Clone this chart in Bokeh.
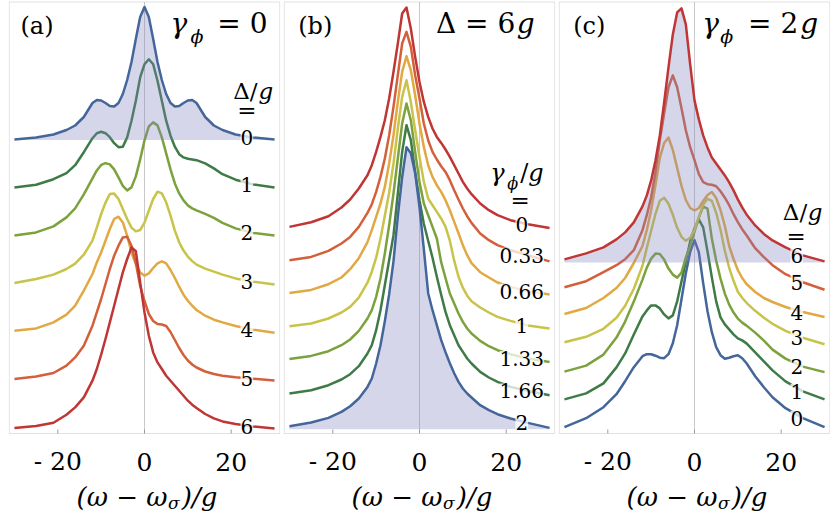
import numpy as np
from bokeh.plotting import figure
from bokeh.models import Label, Range1d, BoxAnnotation
from bokeh.layouts import row
from bokeh.embed import file_html
from bokeh.resources import INLINE

# ---------------- data ----------------
# frequency grid (omega - omega_sigma)/g
omega = [-30, -25, -21, -18, -16, -14, -12, -11, -10, -9, -8, -7, -6, -5, -4, -3, -2, -1, 0,
         1, 2, 3, 4, 5, 6, 7, 8, 9, 10, 11, 12, 14, 16, 18, 21, 25, 30]
x_ticks = [-20, 0, 20]
x_tick_labels = ["- 20", "0", "20"]

# panel (a): gamma_phi = 0, spectra for Delta/g = 0..6 (arb. units)
a_labels = ["0", "1", "2", "3", "4", "5", "6"]
a_d0 = [0.5, 2.5, 5.5, 10, 14.5, 23, 37, 40, 39.5, 37, 34, 33.5, 37, 46, 60, 78, 101, 123, 133,
        123, 101, 78, 60, 46, 37, 33.5, 34, 37, 39.5, 40, 37, 23, 14.5, 10, 5.5, 2.5, 0.5]
a_d1 = [0.8, 3.5, 9, 15, 23, 36, 50, 55, 56.5, 55, 51, 45, 41, 41.5, 50.8, 67.5, 87.5, 110.8, 124,
        129, 124, 107.5, 87.5, 67.5, 52.5, 41.5, 34, 30.8, 29.5, 28.8, 28, 24.8, 19.8, 14, 8.5, 3.8, 0.8]
a_d2 = [1, 4, 10, 19, 28, 42, 58, 66, 71.5, 73.3, 72, 67, 59, 50.5, 46, 49, 60, 77, 96,
        110, 114, 111, 99, 83, 67, 53, 43, 36, 31, 28, 26, 22.5, 18.5, 13.5, 8, 3.5, 1]
a_d3 = [1.6, 5.6, 10, 15.6, 21, 30, 44, 57, 70.6, 82, 90.5, 91, 85.6, 75.6, 65.6, 57, 53.2, 54.6, 62,
        73.9, 85.6, 92.9, 91.2, 82.3, 69, 54, 42.3, 34, 28, 23.5, 20, 16, 13, 10, 6.2, 2.9, 0.2]
a_d4 = [2.1, 4.4, 10.4, 18.1, 27.1, 42.1, 58.8, 70.4, 80.4, 92.1, 103.8, 113.8, 116.1, 110.4, 97.1, 80, 68.8, 60.4, 57.1,
        59.4, 64.8, 69.4, 71.4, 69.4, 62.8, 54.8, 46.1, 38.1, 32.1, 27.1, 22.8, 17.1, 13.1, 10.4, 6.8, 3.1, 0.1]
a_d5 = [2.0, 4.6, 8, 15.3, 23.6, 35.3, 55.3, 68.6, 82, 97, 112, 125.3, 135.3, 143.6, 144.3, 135.3, 118, 95, 80,
        67, 60, 57, 56.5, 55, 49, 41, 33, 26, 20.5, 16.5, 13.5, 9.5, 7, 5.3, 3.8, 2.3, 0.5]
a_d6 = [1.2, 3.2, 6.5, 14.5, 21.8, 31.8, 48.5, 60.2, 74.5, 90.2, 106.8, 123.5, 140.2, 156.8, 170.2, 181.8, 178, 146.8, 116.8,
        93.5, 76.8, 66.8, 60.2, 53.5, 48.5, 43.5, 38.5, 33.5, 28.5, 24.5, 21.2, 15.2, 10.8, 7.8, 5.2, 2.8, 0.8]
a_offsets = [289.2, 241.0, 192.8, 144.6, 96.4, 48.2, 0.0]

# panel (b): Delta = 6g, spectra for gamma_phi/g = 0 .. 2
b_labels = ["0", "0.33", "0.66", "1", "1.33", "1.66", "2"]
b_g0 = [1.3, 6, 12, 20.7, 28.7, 39.7, 53, 63, 76.3, 91.3, 108, 129.7, 156.3, 184.7, 214.7, 220.7, 199.7, 171.3, 146.3,
        126.3, 111.3, 99.7, 91.3, 85.3, 78.7, 71.3, 63, 54.7, 46.3, 39.7, 34, 24.7, 18, 13, 8, 4, 0.3]
b_g033 = [1.5, 4.8, 10.8, 18.2, 24.8, 34.8, 48.8, 57.5, 69.8, 84.8, 103.2, 126.5, 154.8, 186.5, 218.2, 229.8, 214.8, 186.5, 163.2,
          138.2, 121.5, 109.8, 102.2, 95.5, 89.8, 81.5, 71.5, 62.2, 53.2, 45.5, 38.8, 28.2, 21.5, 16.5, 11.5, 6.5, 0.3]
b_g066 = [2.3, 5.3, 11, 17.7, 26, 37, 53, 65, 78.3, 91.7, 108.3, 131.7, 160, 193.3, 223.3, 239, 225, 200, 171.7,
          148.3, 130, 118.3, 110, 103.3, 95, 85, 73.3, 62, 50, 40, 32, 23, 17.7, 12.7, 8.3, 4, 0.7]
b_g1 = [2.5, 5.2, 10.2, 16.2, 21.8, 31, 46, 57, 71, 90, 113, 136, 165.2, 200.2, 231.8, 248.5, 226.8, 198.5, 171.8,
        146.8, 130.2, 123.5, 116.8, 110.2, 102, 88, 68, 52, 41, 33, 27.5, 21.2, 16.2, 11.8, 7.8, 3.2, 0.2]
b_g133 = [3.3, 6.3, 11, 17, 22.7, 31.3, 43.7, 52, 65.3, 83.7, 108.7, 137, 168.7, 203.7, 238.7, 258.7, 242, 210.3, 180.3,
          158.7, 147, 135.3, 123.7, 100, 84, 68.7, 58.7, 48.7, 40.3, 33.7, 28.7, 21.3, 16, 12, 8, 3.7, 0.3]
b_g166 = [2.2, 5.5, 10.5, 16.2, 21.5, 29.5, 42.2, 50.5, 65.5, 85.5, 110.5, 135.5, 160.5, 202.2, 243.8, 270.5, 255.5, 223.8, 195.5,
          172, 155, 138, 119, 101, 83.8, 70.5, 60.5, 50.5, 43.8, 37.2, 32.2, 23.8, 18.2, 13.8, 8.8, 4.8, 0.5]
b_g2 = [3, 6.7, 11.3, 17.3, 23, 30.7, 42.3, 50.7, 65.7, 84, 108, 135, 168, 213, 252, 282, 276, 256, 222,
        180, 136, 119, 104, 89, 77, 66, 56, 47.3, 40.7, 35.7, 31.7, 24, 19, 15, 10.7, 6.3, 1.3]
b_offsets = [201.0, 167.5, 134.0, 100.5, 67.0, 33.5, 0.0]

# panel (c): gamma_phi = 2g, spectra for Delta/g = 0..6
c_labels = ["0", "1", "2", "3", "4", "5", "6"]
c_d0 = [2, 11, 22, 35, 48, 62, 73, 75, 75, 73.5, 71.5, 71, 75, 86, 104, 130, 156, 177, 189,
        177, 146, 118, 97, 82, 74, 70.5, 71.5, 73, 74, 71, 66, 53, 42, 32, 21, 11, 2]
c_d1 = [2, 8, 18, 34, 48, 67, 85, 91, 96, 96, 93, 87, 83, 86, 100, 120, 140, 160, 173,
        182, 174, 150, 124, 100, 84, 77, 72, 67, 63, 61, 58, 49, 40, 31, 20, 10, 2]
c_d2 = [2, 8, 19, 36, 52, 72, 94, 106, 115, 120, 119.5, 114, 105, 99, 96, 101, 116, 128, 142,
        156, 167, 165, 135, 113, 95, 80, 69, 61, 55, 51, 48, 41, 33, 24, 15, 7, 1.5]
c_d3 = [3.5, 9, 17, 28, 40, 57, 80, 98, 115, 132, 145, 148, 142, 131, 118, 109, 105, 108, 116,
        129, 141, 147, 145, 133, 116, 95, 78, 65, 54, 48, 43, 35, 28, 22, 15, 8, 1.5]
c_d4 = [4, 10, 20, 30, 40, 55, 72, 88, 108, 133, 160, 175, 180.5, 168, 150, 132, 118, 110, 107.5,
        110, 117, 123, 126, 120, 108, 92, 72, 59, 48, 40, 34, 26, 20, 16, 11, 6, 1]
c_d5 = [3, 9, 18, 25, 31, 40, 60, 75, 93, 118, 150, 177, 203, 214.8, 203, 182, 160, 143, 130,
        116, 108, 106, 105.5, 104, 99, 92.5, 85, 76, 68, 61, 55, 42, 33, 25, 16, 8, 0.5]
c_d6 = [3, 9, 15, 23, 30, 40, 56, 67, 82, 102, 127, 160, 195, 228, 250, 254, 238, 198, 162,
        143, 127, 115, 105, 99, 93, 87, 80, 72, 63, 55, 48, 37, 28.5, 22, 15, 7, 1]
c_offsets = [0.0, 27.8, 55.6, 83.4, 111.2, 139.0, 166.8]

# ---------------- styling / layout ----------------
palette = ["#44669A", "#3E7B47", "#7CA23D", "#C8C349", "#E2A842", "#D3603B", "#BF3634"]
FILL = "#8080C0"
FONT = "DejaVu Serif"
GRAY = "#9a9a9a"
PX = 4.335                       # reference pixels per x unit
FRAME_W = 272
H = 514
XR = (-FRAME_W / 2 / PX, FRAME_W / 2 / PX)
BOX_X = 31.2                     # plotting-frame half width in x units
X_LAB = 23.6
BORDERS = [(8, 1), (2, 1), (2, 0)]


def yref(py):
    """vertical position measured from the top of the picture -> data units"""
    return 428.7 - py


Y_BOT, Y_TOP = yref(433), yref(1.5)     # plotting frame


def base_fig(bl, br):
    p = figure(frame_width=FRAME_W, frame_height=H, x_range=Range1d(*XR),
               y_range=Range1d(yref(H), yref(0)), output_backend="svg",
               toolbar_location=None, x_axis_location=None, y_axis_location=None,
               min_border_left=bl, min_border_right=br, min_border_top=0, min_border_bottom=0,
               background_fill_color="white", border_fill_color="white")
    p.grid.visible = False
    p.outline_line_color = None
    # axis line at omega = 0
    p.segment(x0=[0], x1=[0], y0=[Y_BOT], y1=[Y_TOP], line_color="#c9c9c9", line_width=1)
    return p


def lab(p, x, y, s, size, italic=False, align="left", bg=False):
    kw = dict(x=x, y=y, text=s, text_font=FONT, text_font_size=f"{size}px",
              text_font_style="italic" if italic else "normal", text_align=align,
              text_baseline="middle", text_color="black")
    if bg:
        kw.update(background_fill_color="white", background_fill_alpha=0.75)
    p.add_layout(Label(**kw))


def txt(p, x, base_py, s, size, italic=False, align="left"):
    # base_py: text baseline measured from the top of the picture
    lab(p, x, yref(base_py - 0.36 * size), s, size, italic=italic, align=align)


def frame_and_axis(p):
    # ticks pointing into the frame, tick labels and the axis title
    p.segment(x0=x_ticks, x1=x_ticks, y0=[Y_BOT] * 3, y1=[Y_BOT + 4] * 3,
              line_color=GRAY, line_width=1)
    for t, s in zip(x_ticks, x_tick_labels):
        txt(p, t, 470, s, 25, align="center")
    txt(p, 5.3, 506, "(ω − ω", 26, italic=True, align="right")
    txt(p, 5.4, 508.5, "σ", 17, italic=True)
    txt(p, 8.6, 506, ")/g", 26, italic=True)
    p.add_layout(BoxAnnotation(left=-BOX_X, right=BOX_X, bottom=Y_BOT, top=Y_TOP,
                               fill_color=None, fill_alpha=0, line_color=GRAY, line_width=1))


def draw(p, curves, offsets, colors, labels, filled):
    x = np.array(omega, dtype=float)
    for i in range(len(curves)):
        if i == filled:
            continue
        p.line(x, offsets[i] + np.array(curves[i]), line_color=colors[i], line_width=2.5,
               line_join="round")
    v = np.array(curves[filled], dtype=float)
    off = offsets[filled]
    p.varea(x=x, y1=np.full_like(x, off), y2=off + v, fill_color=FILL, fill_alpha=0.32)
    p.line(x, off + v, line_color=colors[filled], line_width=2.5, line_join="round")
    i25 = omega.index(25)
    for i in range(len(curves)):
        lab(p, X_LAB, offsets[i] + curves[i][i25], labels[i], 20, align="center", bg=True)


# ---------------- panel (a) ----------------
pa = base_fig(*BORDERS[0])
draw(pa, [a_d0, a_d1, a_d2, a_d3, a_d4, a_d5, a_d6], a_offsets, palette, a_labels, 0)
xa = lambda px: (px - 144.0) / PX
txt(pa, xa(20), 34, "(a)", 24)
txt(pa, xa(170), 33, "γ", 28, italic=True)
txt(pa, xa(190), 42.4, "ϕ", 19, italic=True)
txt(pa, xa(267), 33, "= 0", 28, align="right")
txt(pa, xa(257), 98.3, "Δ/", 23, align="right")
txt(pa, xa(258), 98.3, "g", 23, italic=True)
txt(pa, xa(246.5), 118, "=", 23, align="center")
frame_and_axis(pa)

# ---------------- panel (b) ----------------
pb = base_fig(*BORDERS[1])
b_colors = palette[::-1]
draw(pb, [b_g0, b_g033, b_g066, b_g1, b_g133, b_g166, b_g2], b_offsets, b_colors, b_labels, 6)
xb = lambda px: (px - 419.3) / PX
txt(pb, xb(298), 34, "(b)", 24)
txt(pb, xb(515), 33, "Δ = 6", 28, align="right")
txt(pb, xb(516.5), 33, "g", 28, italic=True)
txt(pb, xb(490), 181, "γ", 24, italic=True)
txt(pb, xb(507), 189, "ϕ", 16, italic=True)
txt(pb, xb(520), 181, "/", 24)
txt(pb, xb(528), 181, "g", 24, italic=True)
txt(pb, xb(520), 207.5, "=", 23, align="center")
frame_and_axis(pb)

# ---------------- panel (c) ----------------
pc = base_fig(*BORDERS[2])
draw(pc, [c_d0, c_d1, c_d2, c_d3, c_d4, c_d5, c_d6], c_offsets, palette, c_labels, 6)
xc = lambda px: (px - 694.3) / PX
txt(pc, xc(573), 34, "(c)", 24)
txt(pc, xc(702), 33, "γ", 28, italic=True)
txt(pc, xc(720), 42.4, "ϕ", 19, italic=True)
txt(pc, xc(798), 33, "= 2", 28, align="right")
txt(pc, xc(800), 33, "g", 28, italic=True)
txt(pc, xc(807), 220, "Δ/", 23, align="right")
txt(pc, xc(807.5), 220, "g", 23, italic=True)
txt(pc, xc(796), 244, "=", 23, align="center")
frame_and_axis(pc)

layout = row(pa, pb, pc)
open("out.html", "w").write(file_html(layout, INLINE))
